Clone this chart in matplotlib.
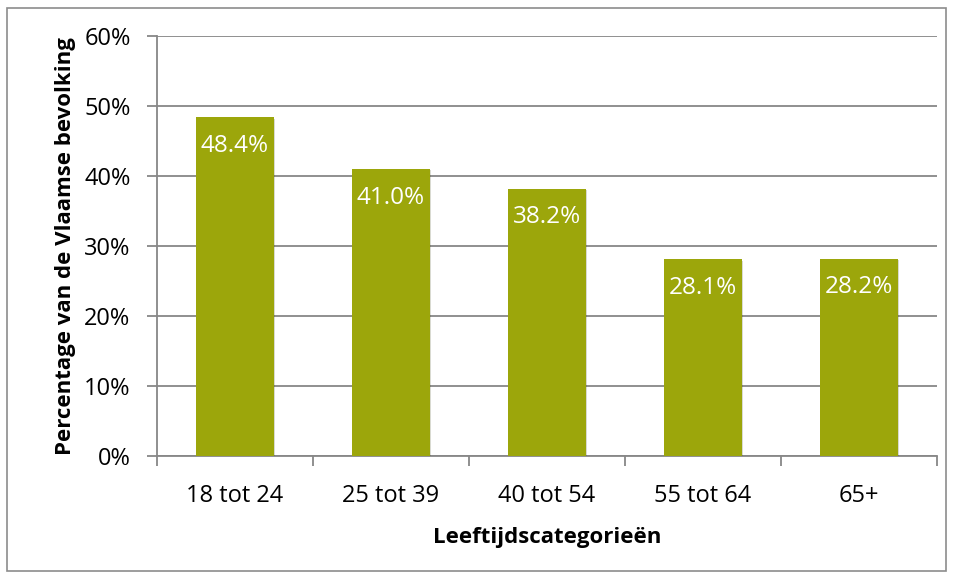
import matplotlib
matplotlib.use("Agg")
import matplotlib.pyplot as plt
import matplotlib.patheffects as pe
from matplotlib.patches import Rectangle
from matplotlib.ticker import FixedLocator, FuncFormatter
import numpy as np

categories = ["18 tot 24", "25 tot 39", "40 tot 54", "55 tot 64", "65+"]
values = [48.4, 41.0, 38.2, 28.1, 28.2]
yticks = [0, 10, 20, 30, 40, 50, 60]

bar_colour = "#9ca60b"
grid_colour = "#878787"

plt.rcParams["font.family"] = ["Open Sans", "DejaVu Sans"]

fig = plt.figure(figsize=(9.55, 5.78), dpi=100)
ax = fig.add_axes([157 / 955, 122 / 578, 780 / 955, 420 / 578])

# outer chart border
fig.patches.append(Rectangle((7 / 955, 7 / 578), 939 / 955, 563 / 578,
                             transform=fig.transFigure, fill=False,
                             edgecolor="#8c8c8c", linewidth=1.2))

x = np.arange(len(categories))
bars = ax.bar(x, values, width=0.5, color=bar_colour, zorder=3,
              path_effects=[pe.SimplePatchShadow(offset=(1, -1), alpha=0.18),
                            pe.Normal()])

for xi, v in zip(x, values):
    ax.annotate(f"{v:.1f}%", (xi, v), xytext=(0, -12), textcoords="offset points",
                ha="center", va="top", color="white", fontsize=17.5, zorder=4)

ax.set_xlim(-0.5, len(categories) - 0.5)
ax.set_ylim(0, 60)
ax.set_yticks(yticks)
ax.yaxis.set_major_formatter(FuncFormatter(lambda v, p: f"{v:.0f}%"))
ax.yaxis.grid(True, color=grid_colour, linewidth=1.3, zorder=0)
ax.set_axisbelow(True)

ax.set_xticks(x)
ax.set_xticklabels(categories)
ax.xaxis.set_minor_locator(FixedLocator(np.arange(len(categories) + 1) - 0.5))
ax.tick_params(axis="x", which="major", length=0, pad=20, labelsize=17)
ax.tick_params(axis="x", which="minor", length=7, width=1.3, color=grid_colour)
ax.tick_params(axis="y", length=7, width=1.3, color=grid_colour, labelsize=17, pad=12)

for s in ["top", "right"]:
    ax.spines[s].set_visible(False)
for s in ["left", "bottom"]:
    ax.spines[s].set_color(grid_colour)
    ax.spines[s].set_linewidth(1.3)

ax.set_ylabel("Percentage van de Vlaamse bevolking", fontsize=16, fontweight="bold",
              labelpad=6)
ax.set_xlabel("Leeftijdscategorieën", fontsize=16, fontweight="bold", labelpad=14)

fig.savefig("out.png", dpi=100)
